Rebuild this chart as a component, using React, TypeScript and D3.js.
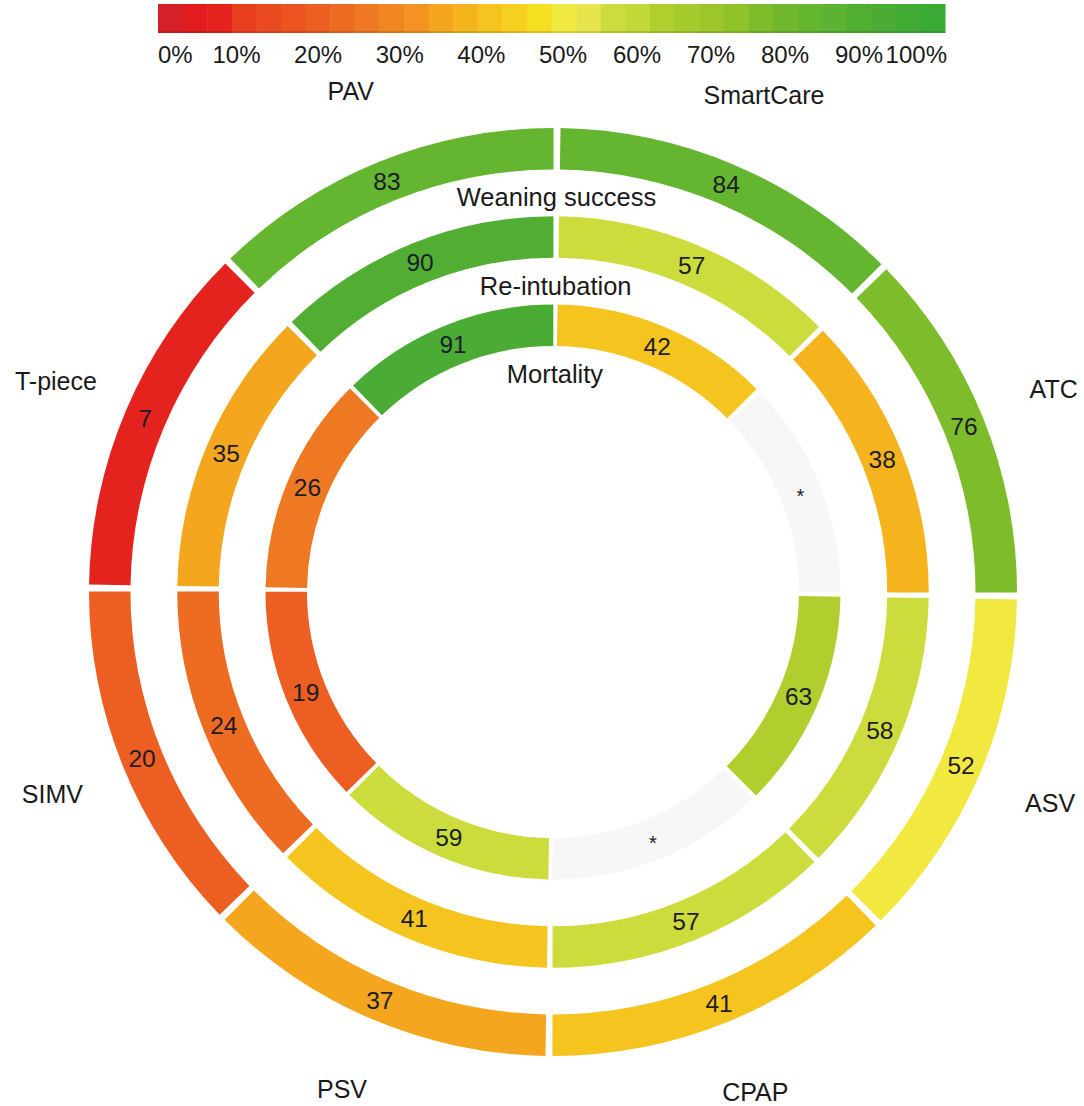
import React, { useEffect, useRef } from 'react';
import * as d3 from 'd3';

// Segments clockwise from 12 o'clock
const categories = ['SmartCare', 'ATC', 'ASV', 'CPAP', 'PSV', 'SIMV', 'T-piece', 'PAV'];

// Rings from inside out
const rings = ['Mortality', 'Re-intubation', 'Weaning success'];

const mortality: (number | null)[] = [42, null, 63, null, 59, 19, 26, 91];
const reintubation: (number | null)[] = [57, 38, 58, 57, 41, 24, 35, 90];
const weaningSuccess: (number | null)[] = [84, 76, 52, 41, 37, 20, 7, 83];

// Legend swatches, 0% -> 100%
const legendColors = [
  '#d42027', '#e11b1e', '#e4231f', '#e8401f', '#ea4a20', '#eb5320', '#ec5e21', '#ee6b22',
  '#ef7922', '#f08622', '#f29323', '#f5a61f', '#f5b41e', '#f5c41f', '#f5d021', '#f4e020',
  '#f1e840', '#e6e64c', '#ccdc3c', '#c2d836', '#b0cf2e', '#a6cb2c', '#9cc62a', '#90c22a',
  '#7dbc2a', '#72b82c', '#64b530', '#5cb232', '#52ae33', '#4aac34', '#42ab35', '#3aaa37'
];

const legendTicks = [0, 10, 20, 30, 40, 50, 60, 70, 80, 90, 100];

const ringValues = [mortality, reintubation, weaningSuccess];

export default function App() {
  const svgRef = useRef<SVGSVGElement>(null);
  const width = 1084;
  const height = 1106;

  useEffect(() => {
    if (!svgRef.current) return;
    const svg = d3.select(svgRef.current);
    svg.selectAll('*').remove();

    const font = "'Liberation Sans', Arial, Helvetica, sans-serif";
    const cx = 553;
    const cy = 592;
    const tilt = (0.5 * Math.PI) / 180; // the figure is turned slightly clockwise

    const color = d3.scaleQuantize<string>().domain([0, 100]).range(legendColors);

    // ---- legend bar
    const barX0 = 158;
    const barX1 = 945;
    const barY = 4;
    const barH = 29;
    const blockX = d3.scaleLinear().domain([0, legendColors.length]).range([barX0, barX1]);

    const legend = svg.append('g');
    legend.selectAll('rect.swatch')
      .data(legendColors)
      .enter()
      .append('rect')
      .attr('class', 'swatch')
      .attr('x', (d, i) => blockX(i))
      .attr('y', barY)
      .attr('width', (d, i) => blockX(i + 1) - blockX(i) + 0.5)
      .attr('height', barH)
      .attr('fill', d => d);

    legend.append('rect')
      .attr('x', barX0)
      .attr('y', barY + barH - 2)
      .attr('width', barX1 - barX0)
      .attr('height', 2)
      .attr('fill', '#000')
      .attr('opacity', 0.12);

    // tick labels were hand placed, so a piecewise scale follows them
    const tickX = d3.scaleLinear().domain([10, 50, 90]).range([236.5, 563, 859]);
    legend.selectAll('text.tick')
      .data(legendTicks)
      .enter()
      .append('text')
      .attr('class', 'tick')
      .attr('x', d => (d === 0 ? barX0 : d === 100 ? barX1 + 2 : tickX(d)))
      .attr('y', 63)
      .attr('text-anchor', d => (d === 0 ? 'start' : d === 100 ? 'end' : 'middle'))
      .style('font-family', font)
      .style('font-size', '24px')
      .style('fill', '#1a1a1a')
      .text(d => `${d}%`);

    // ---- rings
    const g = svg.append('g').attr('transform', `translate(${cx},${cy})`);

    const angle = d3.scaleBand<string>()
      .domain(categories)
      .range([tilt, tilt + 2 * Math.PI])
      .paddingInner(0.0191)
      .paddingOuter(0.0191 / 2);

    const radius = d3.scaleBand<string>()
      .domain(rings)
      .range([246, 464])
      .paddingInner(0.53)
      .paddingOuter(0);

    const arc = d3.arc<any>()
      .innerRadius(d => d.r0)
      .outerRadius(d => d.r1)
      .startAngle(d => d.a0)
      .endAngle(d => d.a1);

    const cells = rings.flatMap((ring, ri) =>
      categories.map((cat, ci) => ({
        ring,
        cat,
        value: ringValues[ri][ci],
        r0: radius(ring)!,
        r1: radius(ring)! + radius.bandwidth(),
        a0: angle(cat)!,
        a1: angle(cat)! + angle.bandwidth()
      }))
    );

    g.selectAll('path.cell')
      .data(cells)
      .enter()
      .append('path')
      .attr('class', 'cell')
      .attr('d', arc)
      .attr('fill', d => (d.value == null ? '#f7f7f7' : color(d.value)));

    g.selectAll('text.value')
      .data(cells)
      .enter()
      .append('text')
      .attr('class', 'value')
      .attr('transform', d => `translate(${arc.centroid(d)})`)
      .attr('text-anchor', 'middle')
      .attr('dy', d => (d.value == null ? '0.55em' : '0.35em'))
      .style('font-family', font)
      .style('font-size', d => (d.value == null ? '20px' : '24.5px'))
      .style('fill', '#1c1c2a')
      .text(d => (d.value == null ? '*' : d.value));

    // ring titles sit just inside each ring, at the top
    g.selectAll('text.ring')
      .data(rings)
      .enter()
      .append('text')
      .attr('class', 'ring')
      .attr('x', d => (radius(d)! - 28) * Math.sin(tilt))
      .attr('y', d => -(radius(d)! - 28) * Math.cos(tilt))
      .attr('dy', '0.35em')
      .attr('text-anchor', 'middle')
      .style('font-family', font)
      .style('font-size', '25.5px')
      .style('fill', '#1a1a1a')
      .text(d => d);

    // mode names around the outside
    const labelR = 540;
    g.selectAll('text.cat')
      .data(categories)
      .enter()
      .append('text')
      .attr('class', 'cat')
      .attr('x', d => labelR * Math.sin(angle(d)! + angle.bandwidth() / 2))
      .attr('y', d => -labelR * Math.cos(angle(d)! + angle.bandwidth() / 2))
      .attr('dy', '0.35em')
      .attr('text-anchor', 'middle')
      .style('font-family', font)
      .style('font-size', '25px')
      .style('fill', '#1a1a1a')
      .text(d => d);
  }, []);

  return (
    <svg
      ref={svgRef}
      width={width}
      height={height}
      viewBox={`0 0 ${width} ${height}`}
      style={{ position: 'absolute', left: 0, top: 0, background: '#fff' }}
      role="img"
      aria-label="Weaning modes: weaning success, re-intubation and mortality"
    />
  );
}
